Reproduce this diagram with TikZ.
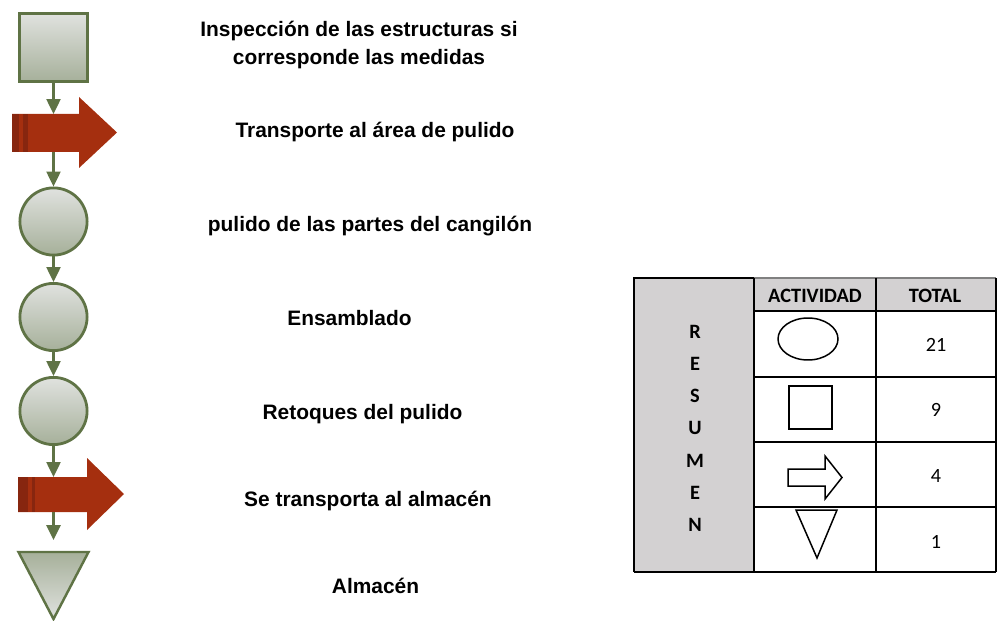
\documentclass[tikz,border=0pt]{standalone}
\usepackage{fontspec}
\setmainfont{Liberation Sans}
\newfontfamily\calib{Carlito}
\usetikzlibrary{arrows.meta}
\definecolor{grn}{HTML}{5F7345}
\definecolor{shtop}{HTML}{E0E2DF}
\definecolor{shbot}{HTML}{A6B09A}
\definecolor{redA}{HTML}{A52F0F}
\definecolor{redD}{HTML}{87260F}
\definecolor{tgray}{HTML}{D3D1D2}
\tikzset{
  proc/.style={draw=grn, line width=1.6pt, top color=shtop, bottom color=shbot, inner sep=0pt},
  flow/.style={draw=grn, line width=1.2pt, -{Triangle[width=8pt,length=8.5pt]}},
  lbl/.style={font=\bfseries\fontsize{11.9}{16}\selectfont, anchor=base, inner sep=0pt},
  tbl/.style={font=\calib\fontsize{11.5}{14}\selectfont, inner sep=0pt},
  tblb/.style={font=\calib\bfseries\fontsize{11.6}{14}\selectfont, inner sep=0pt},
  sym/.style={draw=black, line width=0.85pt},
  thinln/.style={draw=black, line width=0.6pt},
  thickln/.style={draw=black, line width=1.4pt},
}
\begin{document}
\begin{tikzpicture}[x=0.02cm,y=-0.02cm]
\useasboundingbox (0,0) rectangle (999,621);

% ---- flow shapes ----
\node[proc, rectangle, minimum size=1.364cm] (sq) at (53.5,47.5) {};

\fill[redA] (12,114) -- (79,114) -- (79,97) -- (117,132.5) -- (79,168) -- (79,152) -- (12,152) -- cycle;
\fill[redD] (12,114) rectangle (19.3,152);
\fill[redD] (22.7,114) rectangle (28.3,152);
\coordinate (a1t) at (53.5,114);
\coordinate (a1b) at (53.5,152);

\node[proc, circle, minimum size=1.344cm] (c1) at (53.5,221.5) {};
\node[proc, circle, minimum size=1.344cm] (c2) at (53.5,317) {};
\node[proc, circle, minimum size=1.344cm] (c3) at (53.5,411) {};

\fill[redA] (18,477) -- (87,477) -- (87,458) -- (124,494) -- (87,530) -- (87,512) -- (18,512) -- cycle;
\fill[redD] (18,477) rectangle (28,512);
\fill[redD] (31.7,477) rectangle (35,512);
\coordinate (a2t) at (53.5,477);
\coordinate (a2b) at (53.5,512);

\filldraw[draw=grn, line width=1.4pt, top color=shbot, bottom color=shtop] (18.5,552) -- (88.5,552) -- (53.5,619) -- cycle;
\coordinate (tri) at (53.5,552);

% ---- connectors ----
\draw[flow] (sq.south) -- (a1t);
\draw[flow] (a1b) -- (c1.north);
\draw[flow] (c1.south) -- (c2.north);
\draw[flow] (c2.south) -- (c3.north);
\draw[flow] (c3.south) -- (a2t);
\draw[flow, shorten >=6.8pt] (a2b) -- (tri);

% ---- labels ----
\node[lbl, align=center] (t1) at (359,65) {Inspección de las estructuras si\\corresponde las medidas};
\node[lbl] (t2) at (375,138) {Transporte al área de pulido};
\node[lbl] (t3) at (370,231.7) {pulido de las partes del cangilón};
\node[lbl] (t4) at (349.5,325) {Ensamblado};
\node[lbl] (t5) at (362.5,419) {Retoques del pulido};
\node[lbl] (t6) at (368,506) {Se transporta al almacén};
\node[lbl] (t7) at (375.5,593) {Almacén};

% ---- table ----
\fill[tgray] (634,278) rectangle (754,572);
\fill[tgray] (754,278) rectangle (996,311);
\draw[draw=gray, line width=0.6pt] (754,278) -- (996,278);
\draw[thinln] (754,278) -- (754,572);
\draw[thinln] (876,278) -- (876,572);
\draw[thinln] (996,278) -- (996,572);
\draw[thinln] (754,311) -- (996,311);
\draw[thinln] (754,377) -- (996,377);
\draw[thinln] (754,442) -- (996,442);
\draw[thinln] (754,507) -- (996,507);
\draw[thickln] (634,572) -- (634,278) -- (754,278);
\draw[thickln] (634,572) -- (996,572);

\node[tblb] (h1) at (815,296) {ACTIVIDAD};
\node[tblb] (h2) at (935,296) {TOTAL};

\foreach \l [count=\i] in {R,E,S,U,M,E,N}
  \node[tblb] (r\i) at (695,{331.7+32.2*(\i-1)}) {\l};

\draw[sym] (808,339) ellipse [x radius=0.6cm, y radius=0.42cm];
\draw[sym] (789,386) rectangle (832,429);
\draw[sym] (788,469) -- (825,469) -- (825,456) -- (842,477.5) -- (825,499) -- (825,486) -- (788,486) -- cycle;
\draw[sym] (796,510) -- (837,510) -- (817,558) -- cycle;

\node[tbl] (n1) at (936,345) {21};
\node[tbl] (n2) at (936,410) {9};
\node[tbl] (n3) at (936,476) {4};
\node[tbl] (n4) at (936,542) {1};
\end{tikzpicture}
\end{document}
